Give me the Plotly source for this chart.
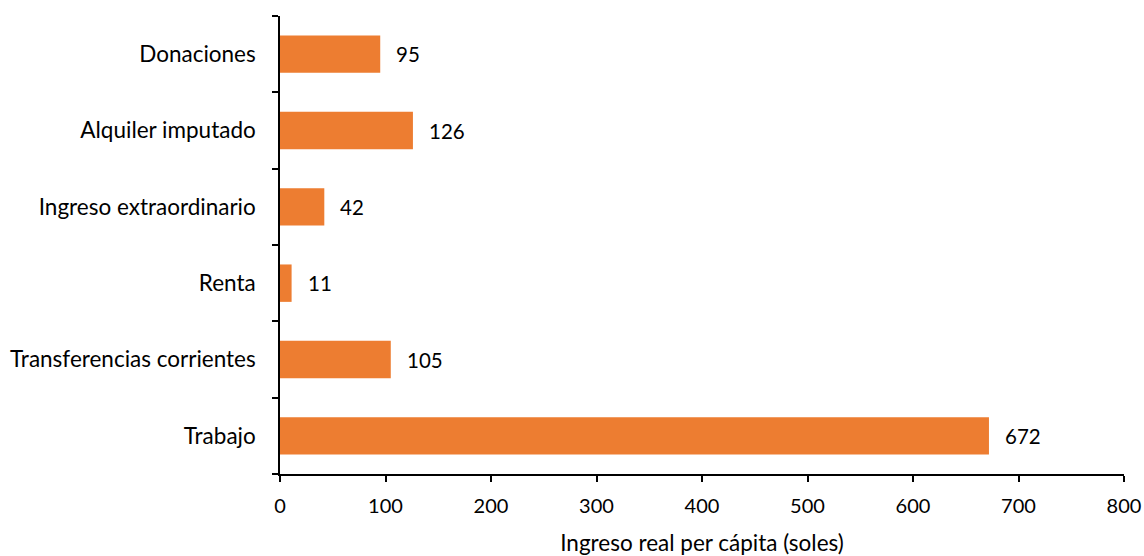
import plotly.graph_objects as go

categories = ["Trabajo", "Transferencias corrientes", "Renta", "Ingreso extraordinario", "Alquiler imputado", "Donaciones"]
values = [672, 105, 11, 42, 126, 95]
x_ticks = [0, 100, 200, 300, 400, 500, 600, 700, 800]

FONT = "Lato"
ORANGE = "#ED7D31"

fig = go.Figure()
fig.add_trace(go.Bar(
    y=categories, x=values, orientation="h",
    marker=dict(color=ORANGE, line=dict(width=0)),
    width=0.49, hoverinfo="x+y",
))
for c, v in zip(categories, values):
    fig.add_annotation(x=v, y=c, text=str(v), showarrow=False, xanchor="left",
                       xshift=14, font=dict(family=FONT, size=20.5, color="#000"))

fig.update_layout(
    width=1144, height=556,
    margin=dict(l=280, r=20, t=16, b=82),
    paper_bgcolor="white", plot_bgcolor="white",
    showlegend=False,
    font=dict(family=FONT, size=20, color="#000"),
    xaxis=dict(range=[0, 800], tickvals=x_ticks, showgrid=False, zeroline=False,
               showline=True, linecolor="#000", linewidth=1.5,
               ticks="outside", ticklen=6, tickcolor="#000", tickwidth=1.5,
               ticklabelstandoff=7, automargin=False,
               title=dict(text="Ingreso real per cápita (soles)", font=dict(size=22.5), standoff=19),
               tickfont=dict(size=20)),
    yaxis=dict(categoryorder="array", categoryarray=categories, showgrid=False,
               showline=True, linecolor="#000", linewidth=1.5,
               ticks="outside", ticklen=6, tickcolor="#000", tickwidth=1.5,
               tickson="boundaries", ticklabelstandoff=18, tickfont=dict(size=22.5),
               automargin=False, range=[-0.5, 5.5]),
)
fig.write_html("out.html", config={"displayModeBar": False},
               post_script="document.body.style.margin='0';document.body.style.overflow='hidden';")
